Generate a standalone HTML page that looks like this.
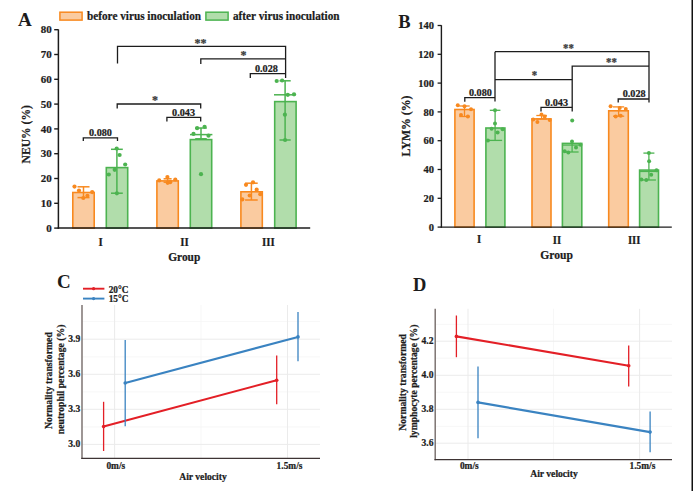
<!DOCTYPE html>
<html><head><meta charset="utf-8"><style>
html,body{margin:0;padding:0;background:#fff;width:693px;height:491px;overflow:hidden}
svg{display:block}
text{font-family:"Liberation Serif",serif;font-weight:bold}
</style></head><body>
<svg width="693" height="491" viewBox="0 0 693 491">
<rect width="693" height="491" fill="#fff"/>
<text transform="translate(18,26) scale(1,1.0)" font-size="19" text-anchor="start" fill="#1c1c1c" stroke="#1c1c1c" stroke-width="0" >A</text>
<rect x="59.9" y="12.2" width="22.2" height="7.9" fill="#facba0" stroke="#f8891f" stroke-width="1.5"/>
<text transform="translate(87,20.3) scale(1,1.1)" font-size="11.25" text-anchor="start" fill="#1c1c1c" stroke="#1c1c1c" stroke-width="0.22" >before virus inoculation</text>
<rect x="205.9" y="12.2" width="22.2" height="7.9" fill="#b1ddab" stroke="#4cb350" stroke-width="1.5"/>
<text transform="translate(233,20.3) scale(1,1.1)" font-size="11.25" text-anchor="start" fill="#1c1c1c" stroke="#1c1c1c" stroke-width="0.22" >after virus inoculation</text>
<line x1="54.2" y1="228.1" x2="58.4" y2="228.1" stroke="#1c1c1c" stroke-width="1.4" stroke-linecap="butt"/>
<text transform="translate(51.8,231.7) scale(1,1.02)" font-size="11" text-anchor="end" fill="#1c1c1c" stroke="#1c1c1c" stroke-width="0.22" >0</text>
<line x1="54.2" y1="203.29999999999998" x2="58.4" y2="203.29999999999998" stroke="#1c1c1c" stroke-width="1.4" stroke-linecap="butt"/>
<text transform="translate(51.8,206.89999999999998) scale(1,1.02)" font-size="11" text-anchor="end" fill="#1c1c1c" stroke="#1c1c1c" stroke-width="0.22" >10</text>
<line x1="54.2" y1="178.5" x2="58.4" y2="178.5" stroke="#1c1c1c" stroke-width="1.4" stroke-linecap="butt"/>
<text transform="translate(51.8,182.1) scale(1,1.02)" font-size="11" text-anchor="end" fill="#1c1c1c" stroke="#1c1c1c" stroke-width="0.22" >20</text>
<line x1="54.2" y1="153.7" x2="58.4" y2="153.7" stroke="#1c1c1c" stroke-width="1.4" stroke-linecap="butt"/>
<text transform="translate(51.8,157.29999999999998) scale(1,1.02)" font-size="11" text-anchor="end" fill="#1c1c1c" stroke="#1c1c1c" stroke-width="0.22" >30</text>
<line x1="54.2" y1="128.89999999999998" x2="58.4" y2="128.89999999999998" stroke="#1c1c1c" stroke-width="1.4" stroke-linecap="butt"/>
<text transform="translate(51.8,132.49999999999997) scale(1,1.02)" font-size="11" text-anchor="end" fill="#1c1c1c" stroke="#1c1c1c" stroke-width="0.22" >40</text>
<line x1="54.2" y1="104.1" x2="58.4" y2="104.1" stroke="#1c1c1c" stroke-width="1.4" stroke-linecap="butt"/>
<text transform="translate(51.8,107.69999999999999) scale(1,1.02)" font-size="11" text-anchor="end" fill="#1c1c1c" stroke="#1c1c1c" stroke-width="0.22" >50</text>
<line x1="54.2" y1="79.29999999999998" x2="58.4" y2="79.29999999999998" stroke="#1c1c1c" stroke-width="1.4" stroke-linecap="butt"/>
<text transform="translate(51.8,82.89999999999998) scale(1,1.02)" font-size="11" text-anchor="end" fill="#1c1c1c" stroke="#1c1c1c" stroke-width="0.22" >60</text>
<line x1="54.2" y1="54.5" x2="58.4" y2="54.5" stroke="#1c1c1c" stroke-width="1.4" stroke-linecap="butt"/>
<text transform="translate(51.8,58.1) scale(1,1.02)" font-size="11" text-anchor="end" fill="#1c1c1c" stroke="#1c1c1c" stroke-width="0.22" >70</text>
<line x1="54.2" y1="29.69999999999999" x2="58.4" y2="29.69999999999999" stroke="#1c1c1c" stroke-width="1.4" stroke-linecap="butt"/>
<text transform="translate(51.8,33.29999999999999) scale(1,1.02)" font-size="11" text-anchor="end" fill="#1c1c1c" stroke="#1c1c1c" stroke-width="0.22" >80</text>
<rect x="72.80" y="192.50" width="21.40" height="35.60" fill="#facba0" stroke="#f8891f" stroke-width="1.6"/>
<rect x="106.30" y="167.60" width="21.40" height="60.50" fill="#b1ddab" stroke="#4cb350" stroke-width="1.6"/>
<rect x="156.90" y="180.90" width="21.40" height="47.20" fill="#facba0" stroke="#f8891f" stroke-width="1.6"/>
<rect x="190.30" y="139.60" width="21.40" height="88.50" fill="#b1ddab" stroke="#4cb350" stroke-width="1.6"/>
<rect x="240.90" y="191.80" width="21.40" height="36.30" fill="#facba0" stroke="#f8891f" stroke-width="1.6"/>
<rect x="274.70" y="101.60" width="21.40" height="126.50" fill="#b1ddab" stroke="#4cb350" stroke-width="1.6"/>
<line x1="83.5" y1="186.8" x2="83.5" y2="197.6" stroke="#f8891f" stroke-width="1.5" stroke-linecap="butt"/>
<line x1="77.5" y1="186.8" x2="89.5" y2="186.8" stroke="#f8891f" stroke-width="1.5" stroke-linecap="butt"/>
<line x1="77.5" y1="197.6" x2="89.5" y2="197.6" stroke="#f8891f" stroke-width="1.5" stroke-linecap="butt"/>
<line x1="116.9" y1="149.3" x2="116.9" y2="193.2" stroke="#4cb350" stroke-width="1.5" stroke-linecap="butt"/>
<line x1="111.0" y1="149.3" x2="122.80000000000001" y2="149.3" stroke="#4cb350" stroke-width="1.5" stroke-linecap="butt"/>
<line x1="111.0" y1="193.2" x2="122.80000000000001" y2="193.2" stroke="#4cb350" stroke-width="1.5" stroke-linecap="butt"/>
<line x1="167.6" y1="178.8" x2="167.6" y2="182.2" stroke="#f8891f" stroke-width="1.5" stroke-linecap="butt"/>
<line x1="163.6" y1="178.8" x2="171.6" y2="178.8" stroke="#f8891f" stroke-width="1.5" stroke-linecap="butt"/>
<line x1="163.6" y1="182.2" x2="171.6" y2="182.2" stroke="#f8891f" stroke-width="1.5" stroke-linecap="butt"/>
<line x1="201" y1="128.0" x2="201" y2="138.8" stroke="#4cb350" stroke-width="1.5" stroke-linecap="butt"/>
<line x1="195.2" y1="128.0" x2="206.8" y2="128.0" stroke="#4cb350" stroke-width="1.5" stroke-linecap="butt"/>
<line x1="195.2" y1="138.8" x2="206.8" y2="138.8" stroke="#4cb350" stroke-width="1.5" stroke-linecap="butt"/>
<line x1="190" y1="134.6" x2="212.4" y2="134.6" stroke="#4cb350" stroke-width="1.5" stroke-linecap="butt"/>
<line x1="251.4" y1="183.2" x2="251.4" y2="200" stroke="#f8891f" stroke-width="1.5" stroke-linecap="butt"/>
<line x1="245.1" y1="183.2" x2="257.7" y2="183.2" stroke="#f8891f" stroke-width="1.5" stroke-linecap="butt"/>
<line x1="245.1" y1="200" x2="257.7" y2="200" stroke="#f8891f" stroke-width="1.5" stroke-linecap="butt"/>
<line x1="285.1" y1="80.8" x2="285.1" y2="140" stroke="#4cb350" stroke-width="1.5" stroke-linecap="butt"/>
<line x1="279.5" y1="80.8" x2="290.70000000000005" y2="80.8" stroke="#4cb350" stroke-width="1.5" stroke-linecap="butt"/>
<line x1="279.5" y1="140" x2="290.70000000000005" y2="140" stroke="#4cb350" stroke-width="1.5" stroke-linecap="butt"/>
<line x1="274" y1="94.8" x2="296" y2="94.8" stroke="#4cb350" stroke-width="1.5" stroke-linecap="butt"/>
<circle cx="74.5" cy="186.6" r="2.1" fill="#f8891f"/>
<circle cx="79" cy="190.6" r="2.1" fill="#f8891f"/>
<circle cx="83.3" cy="198" r="2.1" fill="#f8891f"/>
<circle cx="87.4" cy="195.8" r="2.1" fill="#f8891f"/>
<circle cx="92.2" cy="192.1" r="2.1" fill="#f8891f"/>
<circle cx="116.7" cy="148.6" r="2.1" fill="#4cb350"/>
<circle cx="119.6" cy="155" r="2.1" fill="#4cb350"/>
<circle cx="125.2" cy="164.5" r="2.1" fill="#4cb350"/>
<circle cx="114.7" cy="169.8" r="2.1" fill="#4cb350"/>
<circle cx="108.8" cy="174.5" r="2.1" fill="#4cb350"/>
<circle cx="116.9" cy="193.3" r="2.1" fill="#4cb350"/>
<circle cx="159.2" cy="180.4" r="2.1" fill="#f8891f"/>
<circle cx="167.4" cy="177" r="2.1" fill="#f8891f"/>
<circle cx="167.7" cy="182.8" r="2.1" fill="#f8891f"/>
<circle cx="170.2" cy="182.2" r="2.1" fill="#f8891f"/>
<circle cx="175.3" cy="179.5" r="2.1" fill="#f8891f"/>
<circle cx="197.1" cy="128.2" r="2.1" fill="#4cb350"/>
<circle cx="204.6" cy="126.8" r="2.1" fill="#4cb350"/>
<circle cx="193.5" cy="133.9" r="2.1" fill="#4cb350"/>
<circle cx="208.5" cy="135.7" r="2.1" fill="#4cb350"/>
<circle cx="201" cy="174.2" r="2.1" fill="#4cb350"/>
<circle cx="246" cy="184.8" r="2.1" fill="#f8891f"/>
<circle cx="253" cy="182.3" r="2.1" fill="#f8891f"/>
<circle cx="256.7" cy="189.7" r="2.1" fill="#f8891f"/>
<circle cx="260.3" cy="194.2" r="2.1" fill="#f8891f"/>
<circle cx="249.7" cy="195.5" r="2.1" fill="#f8891f"/>
<circle cx="242.3" cy="199.4" r="2.1" fill="#f8891f"/>
<circle cx="276.7" cy="81" r="2.1" fill="#4cb350"/>
<circle cx="282.1" cy="80.5" r="2.1" fill="#4cb350"/>
<circle cx="287.8" cy="94.8" r="2.1" fill="#4cb350"/>
<circle cx="294" cy="94.3" r="2.1" fill="#4cb350"/>
<circle cx="284.9" cy="114.7" r="2.1" fill="#4cb350"/>
<circle cx="285.1" cy="140" r="2.1" fill="#4cb350"/>
<line x1="58.4" y1="29.4" x2="58.4" y2="228.79999999999998" stroke="#1c1c1c" stroke-width="1.5" stroke-linecap="butt"/>
<line x1="57.699999999999996" y1="228.1" x2="310.2" y2="228.1" stroke="#1c1c1c" stroke-width="1.5" stroke-linecap="butt"/>
<polyline points="83.3,141 83.3,137.9 117.5,137.9 117.5,141" fill="none" stroke="#1c1c1c" stroke-width="1.3" stroke-linejoin="miter"/>
<text transform="translate(100.5,135.6) scale(1,1.1)" font-size="10.2" text-anchor="middle" fill="#1c1c1c" stroke="#1c1c1c" stroke-width="0.22" >0.080</text>
<polyline points="117.2,108.5 117.2,104 200.7,104 200.7,108.5" fill="none" stroke="#1c1c1c" stroke-width="1.3" stroke-linejoin="miter"/>
<text transform="translate(155,104.3) scale(1,1.0)" font-size="12" text-anchor="middle" fill="#3a3a3a" stroke="#3a3a3a" stroke-width="0.22" >*</text>
<polyline points="166.9,121.5 166.9,117.3 200.7,117.3 200.7,121.5" fill="none" stroke="#1c1c1c" stroke-width="1.3" stroke-linejoin="miter"/>
<text transform="translate(183.6,115.5) scale(1,1.1)" font-size="10.2" text-anchor="middle" fill="#1c1c1c" stroke="#1c1c1c" stroke-width="0.22" >0.043</text>
<polyline points="117.5,63.5 117.5,46.4 285.6,46.4 285.6,77.9" fill="none" stroke="#1c1c1c" stroke-width="1.3" stroke-linejoin="miter"/>
<text transform="translate(200.4,46.6) scale(1,1.0)" font-size="12" text-anchor="middle" fill="#3a3a3a" stroke="#3a3a3a" stroke-width="0.22" >**</text>
<polyline points="200.8,64 200.8,58.8 285.6,58.8" fill="none" stroke="#1c1c1c" stroke-width="1.3" stroke-linejoin="miter"/>
<text transform="translate(243.5,59.1) scale(1,1.0)" font-size="12" text-anchor="middle" fill="#3a3a3a" stroke="#3a3a3a" stroke-width="0.22" >*</text>
<polyline points="250.3,77.9 250.3,73.6 285.6,73.6" fill="none" stroke="#1c1c1c" stroke-width="1.3" stroke-linejoin="miter"/>
<text transform="translate(266.4,71.8) scale(1,1.1)" font-size="10.2" text-anchor="middle" fill="#1c1c1c" stroke="#1c1c1c" stroke-width="0.22" >0.028</text>
<text transform="translate(100.7,245.6) scale(1,1.1)" font-size="11" text-anchor="middle" fill="#1c1c1c" stroke="#1c1c1c" stroke-width="0.22" >I</text>
<text transform="translate(184.5,245.8) scale(1,1.1)" font-size="11" text-anchor="middle" fill="#1c1c1c" stroke="#1c1c1c" stroke-width="0.22" >II</text>
<text transform="translate(268.3,245.5) scale(1,1.1)" font-size="11" text-anchor="middle" fill="#1c1c1c" stroke="#1c1c1c" stroke-width="0.22" >III</text>
<text transform="translate(184.2,261) scale(1,1.1)" font-size="11.4" text-anchor="middle" fill="#1c1c1c" stroke="#1c1c1c" stroke-width="0.22" >Group</text>
<text transform="translate(29.8,134.3) rotate(-90) scale(1,1.1)" font-size="11.6" text-anchor="middle" fill="#1c1c1c" stroke="#1c1c1c" stroke-width="0.22">NEU% (%)</text>
<text transform="translate(398.3,28.4) scale(1,1.0)" font-size="18.5" text-anchor="start" fill="#1c1c1c" stroke="#1c1c1c" stroke-width="0" >B</text>
<line x1="437.6" y1="227.1" x2="441.4" y2="227.1" stroke="#1c1c1c" stroke-width="1.3" stroke-linecap="butt"/>
<text transform="translate(434,230.7) scale(1,1.04)" font-size="10.5" text-anchor="end" fill="#1c1c1c" stroke="#1c1c1c" stroke-width="0.22" >0</text>
<line x1="437.6" y1="198.3" x2="441.4" y2="198.3" stroke="#1c1c1c" stroke-width="1.3" stroke-linecap="butt"/>
<text transform="translate(434,201.9) scale(1,1.04)" font-size="10.5" text-anchor="end" fill="#1c1c1c" stroke="#1c1c1c" stroke-width="0.22" >20</text>
<line x1="437.6" y1="169.5" x2="441.4" y2="169.5" stroke="#1c1c1c" stroke-width="1.3" stroke-linecap="butt"/>
<text transform="translate(434,173.1) scale(1,1.04)" font-size="10.5" text-anchor="end" fill="#1c1c1c" stroke="#1c1c1c" stroke-width="0.22" >40</text>
<line x1="437.6" y1="140.7" x2="441.4" y2="140.7" stroke="#1c1c1c" stroke-width="1.3" stroke-linecap="butt"/>
<text transform="translate(434,144.29999999999998) scale(1,1.04)" font-size="10.5" text-anchor="end" fill="#1c1c1c" stroke="#1c1c1c" stroke-width="0.22" >60</text>
<line x1="437.6" y1="111.9" x2="441.4" y2="111.9" stroke="#1c1c1c" stroke-width="1.3" stroke-linecap="butt"/>
<text transform="translate(434,115.5) scale(1,1.04)" font-size="10.5" text-anchor="end" fill="#1c1c1c" stroke="#1c1c1c" stroke-width="0.22" >80</text>
<line x1="437.6" y1="83.1" x2="441.4" y2="83.1" stroke="#1c1c1c" stroke-width="1.3" stroke-linecap="butt"/>
<text transform="translate(434,86.69999999999999) scale(1,1.04)" font-size="10.5" text-anchor="end" fill="#1c1c1c" stroke="#1c1c1c" stroke-width="0.22" >100</text>
<line x1="437.6" y1="54.30000000000001" x2="441.4" y2="54.30000000000001" stroke="#1c1c1c" stroke-width="1.3" stroke-linecap="butt"/>
<text transform="translate(434,57.90000000000001) scale(1,1.04)" font-size="10.5" text-anchor="end" fill="#1c1c1c" stroke="#1c1c1c" stroke-width="0.22" >120</text>
<line x1="437.6" y1="25.5" x2="441.4" y2="25.5" stroke="#1c1c1c" stroke-width="1.3" stroke-linecap="butt"/>
<text transform="translate(434,29.1) scale(1,1.04)" font-size="10.5" text-anchor="end" fill="#1c1c1c" stroke="#1c1c1c" stroke-width="0.22" >140</text>
<rect x="454.90" y="109.50" width="19.20" height="117.60" fill="#facba0" stroke="#f8891f" stroke-width="1.6"/>
<rect x="485.90" y="128.00" width="19.00" height="99.10" fill="#b1ddab" stroke="#4cb350" stroke-width="1.6"/>
<rect x="532.00" y="118.90" width="19.00" height="108.20" fill="#facba0" stroke="#f8891f" stroke-width="1.6"/>
<rect x="562.40" y="143.40" width="19.40" height="83.70" fill="#b1ddab" stroke="#4cb350" stroke-width="1.6"/>
<rect x="608.70" y="110.80" width="19.60" height="116.30" fill="#facba0" stroke="#f8891f" stroke-width="1.6"/>
<rect x="639.60" y="170.10" width="18.90" height="57.00" fill="#b1ddab" stroke="#4cb350" stroke-width="1.6"/>
<line x1="464.5" y1="106" x2="464.5" y2="116.5" stroke="#f8891f" stroke-width="1.3" stroke-linecap="butt"/>
<line x1="459.3" y1="106" x2="469.7" y2="106" stroke="#f8891f" stroke-width="1.3" stroke-linecap="butt"/>
<line x1="459.3" y1="116.5" x2="469.7" y2="116.5" stroke="#f8891f" stroke-width="1.3" stroke-linecap="butt"/>
<line x1="495.1" y1="110.3" x2="495.1" y2="140.4" stroke="#4cb350" stroke-width="1.3" stroke-linecap="butt"/>
<line x1="489.8" y1="110.3" x2="500.40000000000003" y2="110.3" stroke="#4cb350" stroke-width="1.3" stroke-linecap="butt"/>
<line x1="488.1" y1="140.4" x2="502.1" y2="140.4" stroke="#4cb350" stroke-width="1.3" stroke-linecap="butt"/>
<line x1="541.6" y1="115.5" x2="541.6" y2="119.0" stroke="#f8891f" stroke-width="1.3" stroke-linecap="butt"/>
<line x1="536.3000000000001" y1="115.5" x2="546.9" y2="115.5" stroke="#f8891f" stroke-width="1.3" stroke-linecap="butt"/>
<line x1="536.3000000000001" y1="119.0" x2="546.9" y2="119.0" stroke="#f8891f" stroke-width="1.3" stroke-linecap="butt"/>
<line x1="572.1" y1="143.5" x2="572.1" y2="152" stroke="#4cb350" stroke-width="1.3" stroke-linecap="butt"/>
<line x1="572.1" y1="143.5" x2="572.1" y2="143.5" stroke="#4cb350" stroke-width="1.3" stroke-linecap="butt"/>
<line x1="565.6" y1="152" x2="578.6" y2="152" stroke="#4cb350" stroke-width="1.3" stroke-linecap="butt"/>
<line x1="562" y1="145.1" x2="582" y2="145.1" stroke="#4cb350" stroke-width="1.2" stroke-linecap="butt"/>
<line x1="618.6" y1="106.9" x2="618.6" y2="116.2" stroke="#f8891f" stroke-width="1.3" stroke-linecap="butt"/>
<line x1="613.0" y1="106.9" x2="624.2" y2="106.9" stroke="#f8891f" stroke-width="1.3" stroke-linecap="butt"/>
<line x1="613.0" y1="116.2" x2="624.2" y2="116.2" stroke="#f8891f" stroke-width="1.3" stroke-linecap="butt"/>
<line x1="648.9" y1="153.1" x2="648.9" y2="180" stroke="#4cb350" stroke-width="1.3" stroke-linecap="butt"/>
<line x1="643.4" y1="153.1" x2="654.4" y2="153.1" stroke="#4cb350" stroke-width="1.3" stroke-linecap="butt"/>
<line x1="641.9" y1="180" x2="655.9" y2="180" stroke="#4cb350" stroke-width="1.3" stroke-linecap="butt"/>
<line x1="639.4" y1="171.5" x2="658.9" y2="171.5" stroke="#4cb350" stroke-width="1.2" stroke-linecap="butt"/>
<circle cx="457.8" cy="105.3" r="2.0" fill="#f8891f"/>
<circle cx="464.5" cy="106.2" r="2.0" fill="#f8891f"/>
<circle cx="471" cy="109.2" r="2.0" fill="#f8891f"/>
<circle cx="461" cy="115.1" r="2.0" fill="#f8891f"/>
<circle cx="467.9" cy="116.5" r="2.0" fill="#f8891f"/>
<circle cx="495" cy="110.3" r="2.0" fill="#4cb350"/>
<circle cx="495" cy="123.4" r="2.0" fill="#4cb350"/>
<circle cx="497.6" cy="132.5" r="2.0" fill="#4cb350"/>
<circle cx="487.9" cy="140.4" r="2.0" fill="#4cb350"/>
<circle cx="491.6" cy="128.8" r="2.0" fill="#4cb350"/>
<circle cx="502.6" cy="129.3" r="2.0" fill="#4cb350"/>
<circle cx="541.5" cy="114.6" r="2.0" fill="#f8891f"/>
<circle cx="544.7" cy="116.4" r="2.0" fill="#f8891f"/>
<circle cx="533.2" cy="119.6" r="2.0" fill="#f8891f"/>
<circle cx="537.4" cy="121.9" r="2.0" fill="#f8891f"/>
<circle cx="549.7" cy="120.1" r="2.0" fill="#f8891f"/>
<circle cx="572.2" cy="120.6" r="2.0" fill="#4cb350"/>
<circle cx="564.7" cy="151.2" r="2.0" fill="#4cb350"/>
<circle cx="568.3" cy="152.4" r="2.0" fill="#4cb350"/>
<circle cx="576" cy="147.5" r="2.0" fill="#4cb350"/>
<circle cx="572" cy="141.4" r="2.0" fill="#4cb350"/>
<circle cx="580.5" cy="144.7" r="2.0" fill="#4cb350"/>
<circle cx="610.6" cy="106.3" r="2.0" fill="#f8891f"/>
<circle cx="619.7" cy="107.9" r="2.0" fill="#f8891f"/>
<circle cx="625.8" cy="109.1" r="2.0" fill="#f8891f"/>
<circle cx="615.7" cy="116.4" r="2.0" fill="#f8891f"/>
<circle cx="620.7" cy="115.7" r="2.0" fill="#f8891f"/>
<circle cx="648.9" cy="153.1" r="2.0" fill="#4cb350"/>
<circle cx="649.1" cy="161.3" r="2.0" fill="#4cb350"/>
<circle cx="656.5" cy="170.2" r="2.0" fill="#4cb350"/>
<circle cx="651.2" cy="174.7" r="2.0" fill="#4cb350"/>
<circle cx="641.4" cy="179.6" r="2.0" fill="#4cb350"/>
<circle cx="646.3" cy="180" r="2.0" fill="#4cb350"/>
<line x1="441.4" y1="25.2" x2="441.4" y2="227.75" stroke="#1c1c1c" stroke-width="1.4" stroke-linecap="butt"/>
<line x1="440.7" y1="227.1" x2="671.8" y2="227.1" stroke="#1c1c1c" stroke-width="1.4" stroke-linecap="butt"/>
<polyline points="464.8,101.8 464.8,97.6 495,97.6" fill="none" stroke="#1c1c1c" stroke-width="1.3" stroke-linejoin="miter"/>
<line x1="495" y1="51.7" x2="495" y2="101.5" stroke="#1c1c1c" stroke-width="1.3" stroke-linecap="butt"/>
<text transform="translate(480.4,96.2) scale(1,1.1)" font-size="10.2" text-anchor="middle" fill="#1c1c1c" stroke="#1c1c1c" stroke-width="0.22" >0.080</text>
<polyline points="495,51.7 649,51.7 649,102.5" fill="none" stroke="#1c1c1c" stroke-width="1.3" stroke-linejoin="miter"/>
<text transform="translate(568.5,51.7) scale(1,1.1)" font-size="10.8" text-anchor="middle" fill="#3a3a3a" stroke="#3a3a3a" stroke-width="0.22" >**</text>
<line x1="495" y1="79.6" x2="572.2" y2="79.6" stroke="#1c1c1c" stroke-width="1.3" stroke-linecap="butt"/>
<text transform="translate(534.4,79.2) scale(1,1.1)" font-size="10.8" text-anchor="middle" fill="#3a3a3a" stroke="#3a3a3a" stroke-width="0.22" >*</text>
<polyline points="572.2,111.4 572.2,66.2 649,66.2" fill="none" stroke="#1c1c1c" stroke-width="1.3" stroke-linejoin="miter"/>
<text transform="translate(611.4,65.7) scale(1,1.1)" font-size="10.8" text-anchor="middle" fill="#3a3a3a" stroke="#3a3a3a" stroke-width="0.22" >**</text>
<polyline points="541,111.4 541,107.3 572.2,107.3" fill="none" stroke="#1c1c1c" stroke-width="1.3" stroke-linejoin="miter"/>
<text transform="translate(556.6,106.1) scale(1,1.1)" font-size="10.2" text-anchor="middle" fill="#1c1c1c" stroke="#1c1c1c" stroke-width="0.22" >0.043</text>
<polyline points="618.2,102.6 618.2,99 649,99" fill="none" stroke="#1c1c1c" stroke-width="1.3" stroke-linejoin="miter"/>
<text transform="translate(634.2,96.8) scale(1,1.1)" font-size="10.2" text-anchor="middle" fill="#1c1c1c" stroke="#1c1c1c" stroke-width="0.22" >0.028</text>
<text transform="translate(479.2,243.1) scale(1,1.1)" font-size="10.8" text-anchor="middle" fill="#1c1c1c" stroke="#1c1c1c" stroke-width="0.22" >I</text>
<text transform="translate(557,243.9) scale(1,1.1)" font-size="10.8" text-anchor="middle" fill="#1c1c1c" stroke="#1c1c1c" stroke-width="0.22" >II</text>
<text transform="translate(634.2,244.0) scale(1,1.1)" font-size="10.8" text-anchor="middle" fill="#1c1c1c" stroke="#1c1c1c" stroke-width="0.22" >III</text>
<text transform="translate(556.5,259.0) scale(1,1.1)" font-size="11.6" text-anchor="middle" fill="#1c1c1c" stroke="#1c1c1c" stroke-width="0.22" >Group</text>
<text transform="translate(409.5,126) rotate(-90) scale(1,1.1)" font-size="11.8" text-anchor="middle" fill="#1c1c1c" stroke="#1c1c1c" stroke-width="0.22">LYM% (%)</text>
<text transform="translate(57,287.6) scale(1,1.0)" font-size="19" text-anchor="start" fill="#1c1c1c" stroke="#1c1c1c" stroke-width="0" >C</text>
<line x1="83" y1="288.7" x2="104.4" y2="288.7" stroke="#e31f26" stroke-width="1.9" stroke-linecap="butt"/>
<circle cx="93.6" cy="288.7" r="1.6" fill="#e31f26"/>
<text transform="translate(108.7,292.5) scale(1,1.02)" font-size="9.3" text-anchor="start" fill="#1c1c1c" stroke="#1c1c1c" stroke-width="0.22" >20°C</text>
<line x1="83" y1="298.6" x2="104.4" y2="298.6" stroke="#3a83c1" stroke-width="1.9" stroke-linecap="butt"/>
<circle cx="93.6" cy="298.6" r="1.6" fill="#3a83c1"/>
<text transform="translate(108.7,302.0) scale(1,1.02)" font-size="9.3" text-anchor="start" fill="#1c1c1c" stroke="#1c1c1c" stroke-width="0.22" >15°C</text>
<line x1="82" y1="321.6" x2="320" y2="321.6" stroke="#f5f5f5" stroke-width="0.8" stroke-linecap="butt"/>
<line x1="82" y1="356.8" x2="320" y2="356.8" stroke="#f5f5f5" stroke-width="0.8" stroke-linecap="butt"/>
<line x1="82" y1="391.8" x2="320" y2="391.8" stroke="#f5f5f5" stroke-width="0.8" stroke-linecap="butt"/>
<line x1="82" y1="426.9" x2="320" y2="426.9" stroke="#f5f5f5" stroke-width="0.8" stroke-linecap="butt"/>
<line x1="201" y1="305" x2="201" y2="458.3" stroke="#f5f5f5" stroke-width="0.8" stroke-linecap="butt"/>
<line x1="82" y1="339.2" x2="320" y2="339.2" stroke="#ebebeb" stroke-width="1.0" stroke-linecap="butt"/>
<line x1="82" y1="374.3" x2="320" y2="374.3" stroke="#ebebeb" stroke-width="1.0" stroke-linecap="butt"/>
<line x1="82" y1="409.3" x2="320" y2="409.3" stroke="#ebebeb" stroke-width="1.0" stroke-linecap="butt"/>
<line x1="82" y1="444.4" x2="320" y2="444.4" stroke="#ebebeb" stroke-width="1.0" stroke-linecap="butt"/>
<line x1="114.6" y1="305" x2="114.6" y2="458.3" stroke="#ebebeb" stroke-width="1.0" stroke-linecap="butt"/>
<line x1="287.5" y1="305" x2="287.5" y2="458.3" stroke="#ebebeb" stroke-width="1.0" stroke-linecap="butt"/>
<line x1="82" y1="305" x2="82" y2="458.95" stroke="#746a68" stroke-width="1.4" stroke-linecap="butt"/>
<line x1="81.3" y1="458.3" x2="320" y2="458.3" stroke="#3e3434" stroke-width="1.3" stroke-linecap="butt"/>
<text transform="translate(80.3,342.09999999999997) scale(1,1.1)" font-size="9.6" text-anchor="end" fill="#1c1c1c" stroke="#1c1c1c" stroke-width="0.22" >3.9</text>
<text transform="translate(80.3,377.2) scale(1,1.1)" font-size="9.6" text-anchor="end" fill="#1c1c1c" stroke="#1c1c1c" stroke-width="0.22" >3.6</text>
<text transform="translate(80.3,412.2) scale(1,1.1)" font-size="9.6" text-anchor="end" fill="#1c1c1c" stroke="#1c1c1c" stroke-width="0.22" >3.3</text>
<text transform="translate(80.3,447.29999999999995) scale(1,1.1)" font-size="9.6" text-anchor="end" fill="#1c1c1c" stroke="#1c1c1c" stroke-width="0.22" >3.0</text>
<line x1="103.6" y1="401.8" x2="103.6" y2="451" stroke="#e31f26" stroke-width="1.3" stroke-linecap="butt"/>
<line x1="276.7" y1="355.4" x2="276.7" y2="404.3" stroke="#e31f26" stroke-width="1.3" stroke-linecap="butt"/>
<line x1="103.6" y1="426.6" x2="276.7" y2="380.2" stroke="#e31f26" stroke-width="2.1" stroke-linecap="butt"/>
<circle cx="103.6" cy="426.6" r="1.8" fill="#e31f26"/>
<circle cx="276.7" cy="380.2" r="1.8" fill="#e31f26"/>
<line x1="125.2" y1="340.1" x2="125.2" y2="426.2" stroke="#3a83c1" stroke-width="1.3" stroke-linecap="butt"/>
<line x1="298" y1="312" x2="298" y2="361.2" stroke="#3a83c1" stroke-width="1.3" stroke-linecap="butt"/>
<line x1="125.2" y1="383" x2="298" y2="336.9" stroke="#3a83c1" stroke-width="2.1" stroke-linecap="butt"/>
<circle cx="125.2" cy="383" r="1.8" fill="#3a83c1"/>
<circle cx="298" cy="336.9" r="1.8" fill="#3a83c1"/>
<text transform="translate(115.8,468.9) scale(1,1.1)" font-size="9.4" text-anchor="middle" fill="#1c1c1c" stroke="#1c1c1c" stroke-width="0.22" >0m/s</text>
<text transform="translate(289.5,469.1) scale(1,1.1)" font-size="9.4" text-anchor="middle" fill="#1c1c1c" stroke="#1c1c1c" stroke-width="0.22" >1.5m/s</text>
<text transform="translate(203,479.7) scale(1,1.1)" font-size="9.6" text-anchor="middle" fill="#1c1c1c" stroke="#1c1c1c" stroke-width="0.22" >Air velocity</text>
<text transform="translate(52.2,380.6) rotate(-90) scale(1,1.1)" font-size="9.72" text-anchor="middle" fill="#1c1c1c" stroke="#1c1c1c" stroke-width="0.22">Normality transformed</text>
<text transform="translate(63.8,379.4) rotate(-90) scale(1,1.1)" font-size="9.72" text-anchor="middle" fill="#1c1c1c" stroke="#1c1c1c" stroke-width="0.22">neutrophil percentage (%)</text>
<text transform="translate(413.1,290.8) scale(1,1.0)" font-size="18.5" text-anchor="start" fill="#1c1c1c" stroke="#1c1c1c" stroke-width="0" >D</text>
<line x1="435.2" y1="324.4" x2="672" y2="324.4" stroke="#f5f5f5" stroke-width="0.8" stroke-linecap="butt"/>
<line x1="435.2" y1="358.2" x2="672" y2="358.2" stroke="#f5f5f5" stroke-width="0.8" stroke-linecap="butt"/>
<line x1="435.2" y1="392.3" x2="672" y2="392.3" stroke="#f5f5f5" stroke-width="0.8" stroke-linecap="butt"/>
<line x1="435.2" y1="426.4" x2="672" y2="426.4" stroke="#f5f5f5" stroke-width="0.8" stroke-linecap="butt"/>
<line x1="553.5" y1="308.8" x2="553.5" y2="459.6" stroke="#f5f5f5" stroke-width="0.8" stroke-linecap="butt"/>
<line x1="435.2" y1="341.2" x2="672" y2="341.2" stroke="#ebebeb" stroke-width="1.0" stroke-linecap="butt"/>
<line x1="435.2" y1="375.3" x2="672" y2="375.3" stroke="#ebebeb" stroke-width="1.0" stroke-linecap="butt"/>
<line x1="435.2" y1="409.3" x2="672" y2="409.3" stroke="#ebebeb" stroke-width="1.0" stroke-linecap="butt"/>
<line x1="435.2" y1="443.2" x2="672" y2="443.2" stroke="#ebebeb" stroke-width="1.0" stroke-linecap="butt"/>
<line x1="468" y1="308.8" x2="468" y2="459.6" stroke="#ebebeb" stroke-width="1.0" stroke-linecap="butt"/>
<line x1="639.6" y1="308.8" x2="639.6" y2="459.6" stroke="#ebebeb" stroke-width="1.0" stroke-linecap="butt"/>
<line x1="435.2" y1="308.8" x2="435.2" y2="460.25" stroke="#746a68" stroke-width="1.4" stroke-linecap="butt"/>
<line x1="434.5" y1="459.6" x2="672" y2="459.6" stroke="#3e3434" stroke-width="1.3" stroke-linecap="butt"/>
<text transform="translate(433.5,344.09999999999997) scale(1,1.1)" font-size="9.6" text-anchor="end" fill="#1c1c1c" stroke="#1c1c1c" stroke-width="0.22" >4.2</text>
<text transform="translate(433.5,378.2) scale(1,1.1)" font-size="9.6" text-anchor="end" fill="#1c1c1c" stroke="#1c1c1c" stroke-width="0.22" >4.0</text>
<text transform="translate(433.5,412.2) scale(1,1.1)" font-size="9.6" text-anchor="end" fill="#1c1c1c" stroke="#1c1c1c" stroke-width="0.22" >3.8</text>
<text transform="translate(433.5,446.09999999999997) scale(1,1.1)" font-size="9.6" text-anchor="end" fill="#1c1c1c" stroke="#1c1c1c" stroke-width="0.22" >3.6</text>
<line x1="456.4" y1="315.5" x2="456.4" y2="357.2" stroke="#e31f26" stroke-width="1.3" stroke-linecap="butt"/>
<line x1="628.7" y1="345.4" x2="628.7" y2="386.4" stroke="#e31f26" stroke-width="1.3" stroke-linecap="butt"/>
<line x1="456.4" y1="336.4" x2="628.7" y2="365.7" stroke="#e31f26" stroke-width="2.1" stroke-linecap="butt"/>
<circle cx="456.4" cy="336.4" r="1.8" fill="#e31f26"/>
<circle cx="628.7" cy="365.7" r="1.8" fill="#e31f26"/>
<line x1="478" y1="366.6" x2="478" y2="438.2" stroke="#3a83c1" stroke-width="1.3" stroke-linecap="butt"/>
<line x1="650.1" y1="411.5" x2="650.1" y2="452.3" stroke="#3a83c1" stroke-width="1.3" stroke-linecap="butt"/>
<line x1="478" y1="402.4" x2="650.1" y2="432.1" stroke="#3a83c1" stroke-width="2.1" stroke-linecap="butt"/>
<circle cx="478" cy="402.4" r="1.8" fill="#3a83c1"/>
<circle cx="650.1" cy="432.1" r="1.8" fill="#3a83c1"/>
<text transform="translate(469.3,468.7) scale(1,1.1)" font-size="9.4" text-anchor="middle" fill="#1c1c1c" stroke="#1c1c1c" stroke-width="0.22" >0m/s</text>
<text transform="translate(642.4,469.3) scale(1,1.1)" font-size="9.4" text-anchor="middle" fill="#1c1c1c" stroke="#1c1c1c" stroke-width="0.22" >1.5m/s</text>
<text transform="translate(554,477) scale(1,1.1)" font-size="9.6" text-anchor="middle" fill="#1c1c1c" stroke="#1c1c1c" stroke-width="0.22" >Air velocity</text>
<text transform="translate(406.2,382.4) rotate(-90) scale(1,1.1)" font-size="9.72" text-anchor="middle" fill="#1c1c1c" stroke="#1c1c1c" stroke-width="0.22">Normality transformed</text>
<text transform="translate(416.9,381.2) rotate(-90) scale(1,1.1)" font-size="9.65" text-anchor="middle" fill="#1c1c1c" stroke="#1c1c1c" stroke-width="0.22">lymphocyte percentage (%)</text>
<rect x="691.5" y="0" width="1.5" height="491" fill="#111"/>
</svg>
</body></html>
